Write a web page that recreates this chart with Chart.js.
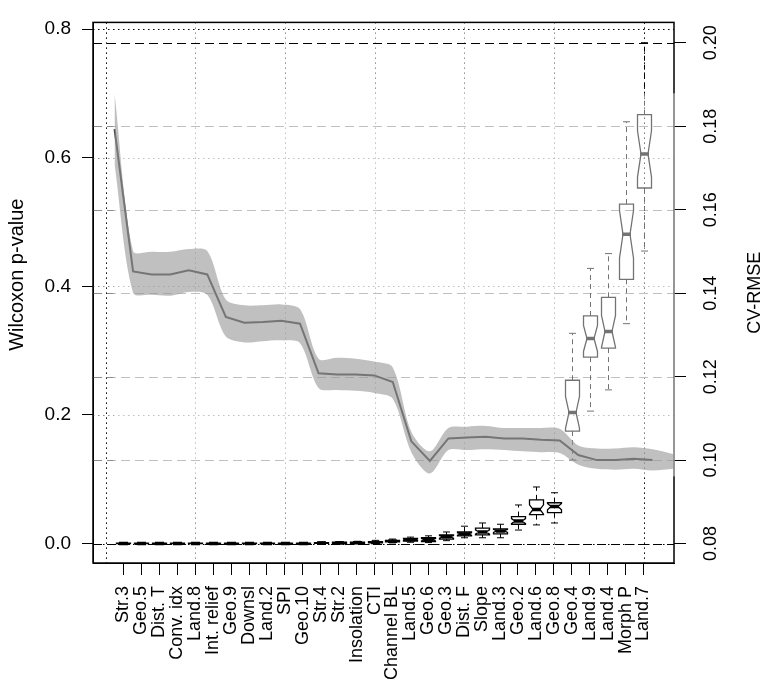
<!DOCTYPE html>
<html>
<head>
<meta charset="utf-8">
<script src="https://cdn.jsdelivr.net/npm/chart.js@4/dist/chart.umd.min.js"></script>
<style>
  body { margin: 0; background: #fff; }
  canvas { display: block; }
</style>
</head>
<body>
<canvas id="grafico" width="767" height="692"></canvas>
<script>
// Categorías (eje x)
const categorias = ["Str.3", "Geo.5", "Dist. T", "Conv. idx", "Land.8", "Int. relief", "Geo.9", "Downsl", "Land.2", "SPI",
  "Geo.10", "Str.4", "Str.2", "Insolation", "CTI", "Channel BL", "Land.5", "Geo.6", "Geo.3", "Dist. F",
  "Slope", "Land.3", "Geo.2", "Land.6", "Geo.8", "Geo.4", "Land.9", "Land.4", "Morph P", "Land.7"];

// Boxplots del p-value de Wilcoxon (eje izquierdo)
const bigoteBajo = [0, 0, 0, 0, 0, 0, 0, 0, 0, 0, 0, 0, 0, 0, 0.0002, 0.001, 0.002, 0.0015, 0.0045, 0.009,
  0.009, 0.009, 0.021, 0.029, 0.032, 0.130, 0.206, 0.239, 0.342, 0.455];
const cuartil1 = [0, 0, 0, 0, 0, 0, 0, 0, 0, 0, 0, 0.0003, 0.0005, 0.0005, 0.001, 0.0025, 0.004, 0.003, 0.007, 0.012,
  0.0136, 0.015, 0.030, 0.045, 0.048, 0.175, 0.290, 0.304, 0.411, 0.553];
const mediana = [0.0002, 0.0002, 0.0002, 0.0002, 0.0002, 0.0002, 0.0002, 0.0002, 0.0002, 0.0002, 0.0002, 0.0008, 0.001, 0.0012, 0.0018, 0.0035, 0.006, 0.006, 0.0105, 0.015,
  0.018, 0.0197, 0.035, 0.053, 0.0575, 0.204, 0.319, 0.330, 0.481, 0.606];
const cuartil3 = [0.0005, 0.0005, 0.0005, 0.0005, 0.0005, 0.0005, 0.0005, 0.0005, 0.0005, 0.0005, 0.0005, 0.0015, 0.002, 0.002, 0.003, 0.005, 0.008, 0.009, 0.0135, 0.018,
  0.024, 0.0227, 0.042, 0.068, 0.0635, 0.254, 0.354, 0.383, 0.528, 0.667];
const bigoteAlto = [0.001, 0.001, 0.001, 0.001, 0.001, 0.001, 0.001, 0.001, 0.001, 0.001, 0.001, 0.0025, 0.003, 0.0035, 0.005, 0.007, 0.010, 0.012, 0.018, 0.027,
  0.032, 0.030, 0.060, 0.088, 0.079, 0.327, 0.428, 0.451, 0.656, 0.779];
const nMuestras = 25; // para el tamaño de la muesca

// Curva CV-RMSE (eje derecho) y su banda
const cvRmse = [0.1793, 0.1452, 0.1445, 0.1445, 0.1455, 0.1445, 0.1343, 0.1329, 0.1331, 0.1334,
  0.1327, 0.1208, 0.1205, 0.1205, 0.1203, 0.1187, 0.1045, 0.0998, 0.1052, 0.1054,
  0.1056, 0.1052, 0.1052, 0.1049, 0.1047, 0.1012, 0.1000, 0.1000, 0.1003, 0.1000];
const bandaX = [1, 2, 3, 4, 5, 6, 7, 8, 9, 10, 11, 12, 13, 14, 15, 16, 17, 18, 19, 20,
  21, 22, 23, 24, 25, 26, 27, 28, 29, 30, 31.16];
const bandaAlta = [0.1879, 0.1501, 0.1499, 0.1499, 0.1506, 0.1501, 0.1385, 0.1371, 0.1371, 0.1373,
  0.1362, 0.1243, 0.1245, 0.1243, 0.1236, 0.1222, 0.1068, 0.1021, 0.1077, 0.1080,
  0.1082, 0.1077, 0.1077, 0.1077, 0.1075, 0.1035, 0.1028, 0.1028, 0.1031, 0.1026, 0.1014];
const bandaBaja = [0.1709, 0.1401, 0.1396, 0.1394, 0.1403, 0.1396, 0.1296, 0.1282, 0.1285, 0.1287,
  0.1280, 0.1173, 0.1168, 0.1166, 0.1161, 0.1147, 0.1019, 0.0968, 0.1024, 0.1024,
  0.1026, 0.1024, 0.1021, 0.1019, 0.1017, 0.0989, 0.0979, 0.0977, 0.0979, 0.0975, 0.0979];

// Marcas de los ejes y rejillas
const ticksIzq = [0, 0.2, 0.4, 0.6, 0.8];
const ticksDer = [0.08, 0.10, 0.12, 0.14, 0.16, 0.18, 0.20];
const rejillaX = [0, 5, 10, 15, 20, 25, 30];

const fuente = "'Liberation Sans', Arial, sans-serif";
Chart.defaults.font.family = fuente;
Chart.defaults.font.size = 18;
Chart.defaults.color = "#000";

// Color de rejilla: extremos en negro, el resto gris
const colorRejilla = (lista, i) => (i === 0 || i === lista.length - 1) ? "#000" : "#8c8c8c";

// Dibuja rejillas, boxplots, marco y el velo blanco antes de la curva
const pluginFondo = {
  id: "fondo",
  beforeDatasetsDraw(chart) {
    const ctx = chart.ctx;
    const area = chart.chartArea;
    const sx = chart.scales.x;
    const sy = chart.scales.y;
    const sy2 = chart.scales.y2;
    const sx2 = chart.scales.x2;

    ctx.save();
    ctx.beginPath();
    ctx.rect(area.left, area.top, area.right - area.left, area.bottom - area.top);
    ctx.clip();

    // rejilla punteada (eje izquierdo y x)
    ctx.lineWidth = 1;
    ctx.setLineDash([1.5, 3.5]);
    rejillaX.forEach((v, i) => {
      const x = Math.round(sx.getPixelForValue(v)) + 0.5;
      ctx.strokeStyle = colorRejilla(rejillaX, i);
      ctx.beginPath(); ctx.moveTo(x, area.top); ctx.lineTo(x, area.bottom); ctx.stroke();
    });
    ticksIzq.forEach((v, i) => {
      const y = Math.round(sy.getPixelForValue(v)) + 0.5;
      ctx.strokeStyle = colorRejilla(ticksIzq, i);
      ctx.beginPath(); ctx.moveTo(area.left, y); ctx.lineTo(area.right, y); ctx.stroke();
    });
    // rejilla discontinua (eje derecho)
    ctx.setLineDash([9, 5]);
    ticksDer.forEach((v, i) => {
      const y = Math.round(sy2.getPixelForValue(v)) + 0.5;
      ctx.strokeStyle = colorRejilla(ticksDer, i);
      ctx.beginPath(); ctx.moveTo(area.left, y); ctx.lineTo(area.right, y); ctx.stroke();
    });

    // boxplots con muesca
    categorias.forEach((c, i) => {
      const cx = Math.round(sx.getPixelForValue(i + 1)) + 0.5;
      const hw = Math.round(sx.getPixelForValue(i + 1.4) - sx.getPixelForValue(i + 1));
      const py = v => sy.getPixelForValue(v);
      const muesca = 1.58 * (cuartil3[i] - cuartil1[i]) / Math.sqrt(nMuestras);

      ctx.lineWidth = 1;
      ctx.strokeStyle = "#000";
      ctx.setLineDash([5, 4]);
      ctx.beginPath();
      ctx.moveTo(cx, py(cuartil3[i])); ctx.lineTo(cx, py(bigoteAlto[i]));
      ctx.moveTo(cx, py(cuartil1[i])); ctx.lineTo(cx, py(bigoteBajo[i]));
      ctx.stroke();
      ctx.setLineDash([]);
      ctx.beginPath();
      ctx.moveTo(cx - hw / 2, py(bigoteAlto[i])); ctx.lineTo(cx + hw / 2, py(bigoteAlto[i]));
      ctx.moveTo(cx - hw / 2, py(bigoteBajo[i])); ctx.lineTo(cx + hw / 2, py(bigoteBajo[i]));
      ctx.stroke();

      ctx.lineWidth = 1.3;
      ctx.beginPath();
      ctx.moveTo(cx - hw, py(cuartil1[i]));
      ctx.lineTo(cx - hw, py(mediana[i] - muesca));
      ctx.lineTo(cx - hw / 2, py(mediana[i]));
      ctx.lineTo(cx - hw, py(mediana[i] + muesca));
      ctx.lineTo(cx - hw, py(cuartil3[i]));
      ctx.lineTo(cx + hw, py(cuartil3[i]));
      ctx.lineTo(cx + hw, py(mediana[i] + muesca));
      ctx.lineTo(cx + hw / 2, py(mediana[i]));
      ctx.lineTo(cx + hw, py(mediana[i] - muesca));
      ctx.lineTo(cx + hw, py(cuartil1[i]));
      ctx.closePath();
      ctx.stroke();

      ctx.lineWidth = 3.5;
      ctx.beginPath();
      ctx.moveTo(cx - hw / 2 - 1, py(mediana[i])); ctx.lineTo(cx + hw / 2 + 1, py(mediana[i]));
      ctx.stroke();
    });
    ctx.restore();

    // marco
    ctx.save();
    ctx.strokeStyle = "#000";
    ctx.lineWidth = 1.5;
    ctx.strokeRect(area.left, area.top, area.right - area.left, area.bottom - area.top);

    // velo blanco semitransparente sobre la zona de la banda
    const x0 = sx2.getPixelForValue(bandaX[0]) - 1;
    const y0 = sy2.getPixelForValue(Math.max(...bandaAlta));
    const y1 = sy2.getPixelForValue(Math.min(...bandaBaja)) + 3;
    ctx.fillStyle = "rgba(255,255,255,0.45)";
    ctx.fillRect(x0, y0, area.right + 1 - x0, y1 - y0);
    ctx.restore();
  },
  afterDraw(chart) {
    const ctx = chart.ctx;
    const area = chart.chartArea;
    const sy2 = chart.scales.y2;
    ctx.save();
    ctx.fillStyle = "#000";
    ctx.font = "18px " + fuente;
    ctx.textAlign = "center";
    ctx.textBaseline = "middle";
    // etiquetas del eje derecho, giradas
    ticksDer.forEach(v => {
      ctx.save();
      ctx.translate(711, sy2.getPixelForValue(v));
      ctx.rotate(-Math.PI / 2);
      ctx.fillText(v.toFixed(2), 0, 0);
      ctx.restore();
    });
    const centroY = (area.top + area.bottom) / 2;
    // títulos de los ejes
    ctx.save();
    ctx.translate(755, centroY);
    ctx.rotate(-Math.PI / 2);
    ctx.fillText("CV-RMSE", 0, 0);
    ctx.restore();
    ctx.save();
    ctx.translate(17, centroY - 18);
    ctx.rotate(-Math.PI / 2);
    ctx.font = "20px " + fuente;
    ctx.fillText("Wilcoxon p-value", 0, 0);
    ctx.restore();
    ctx.restore();
  }
};

new Chart(document.getElementById("grafico"), {
  type: "line",
  data: {
    datasets: [
      {
        label: "banda alta",
        data: bandaX.map((x, i) => ({ x: x, y: bandaAlta[i] })),
        xAxisID: "x2",
        yAxisID: "y2",
        borderWidth: 0,
        pointRadius: 0,
        tension: 0.3,
        backgroundColor: "rgba(150,150,150,0.6)",
        fill: "+1"
      },
      {
        label: "banda baja",
        data: bandaX.map((x, i) => ({ x: x, y: bandaBaja[i] })),
        xAxisID: "x2",
        yAxisID: "y2",
        borderWidth: 0,
        pointRadius: 0,
        tension: 0.3,
        fill: false
      },
      {
        label: "CV-RMSE",
        data: cvRmse.map((v, i) => ({ x: i + 1, y: v })),
        xAxisID: "x2",
        yAxisID: "y2",
        borderColor: "#444",
        borderWidth: 2,
        pointRadius: 0,
        tension: 0,
        fill: false
      }
    ]
  },
  options: {
    responsive: false,
    animation: false,
    devicePixelRatio: 1,
    layout: { padding: { top: 7, left: 0, right: 0, bottom: 0 } },
    plugins: { legend: { display: false }, tooltip: { enabled: false } },
    scales: {
      x: {
        type: "linear",
        position: "bottom",
        min: -0.7,
        max: 31.7,
        afterBuildTicks: scale => { scale.ticks = categorias.map((c, i) => ({ value: i + 1 })); },
        afterFit: scale => { scale.height = 129; },
        ticks: {
          autoSkip: false,
          minRotation: 90,
          maxRotation: 90,
          padding: 11,
          callback: (value, index) => categorias[index]
        },
        grid: { drawOnChartArea: false, tickLength: 12, color: "#000" },
        border: { display: true, color: "#000" }
      },
      x2: {
        type: "linear",
        display: false,
        min: -0.16,
        max: 31.16
      },
      y: {
        position: "left",
        min: -0.03025,
        max: 0.81059,
        afterBuildTicks: scale => { scale.ticks = ticksIzq.map(v => ({ value: v })); },
        afterFit: scale => { scale.width = 93; },
        ticks: { padding: 11, font: { size: 19 }, callback: v => v.toFixed(1) },
        grid: { drawOnChartArea: false, tickLength: 11, color: "#000" },
        border: { display: true, color: "#000" }
      },
      y2: {
        position: "right",
        min: 0.07534,
        max: 0.20489,
        afterBuildTicks: scale => { scale.ticks = ticksDer.map(v => ({ value: v })); },
        afterFit: scale => { scale.width = 93; },
        ticks: { display: false },
        grid: { drawOnChartArea: false, tickLength: 12, color: "#000" },
        border: { display: false }
      }
    }
  },
  plugins: [pluginFondo]
});
</script>
</body>
</html>
